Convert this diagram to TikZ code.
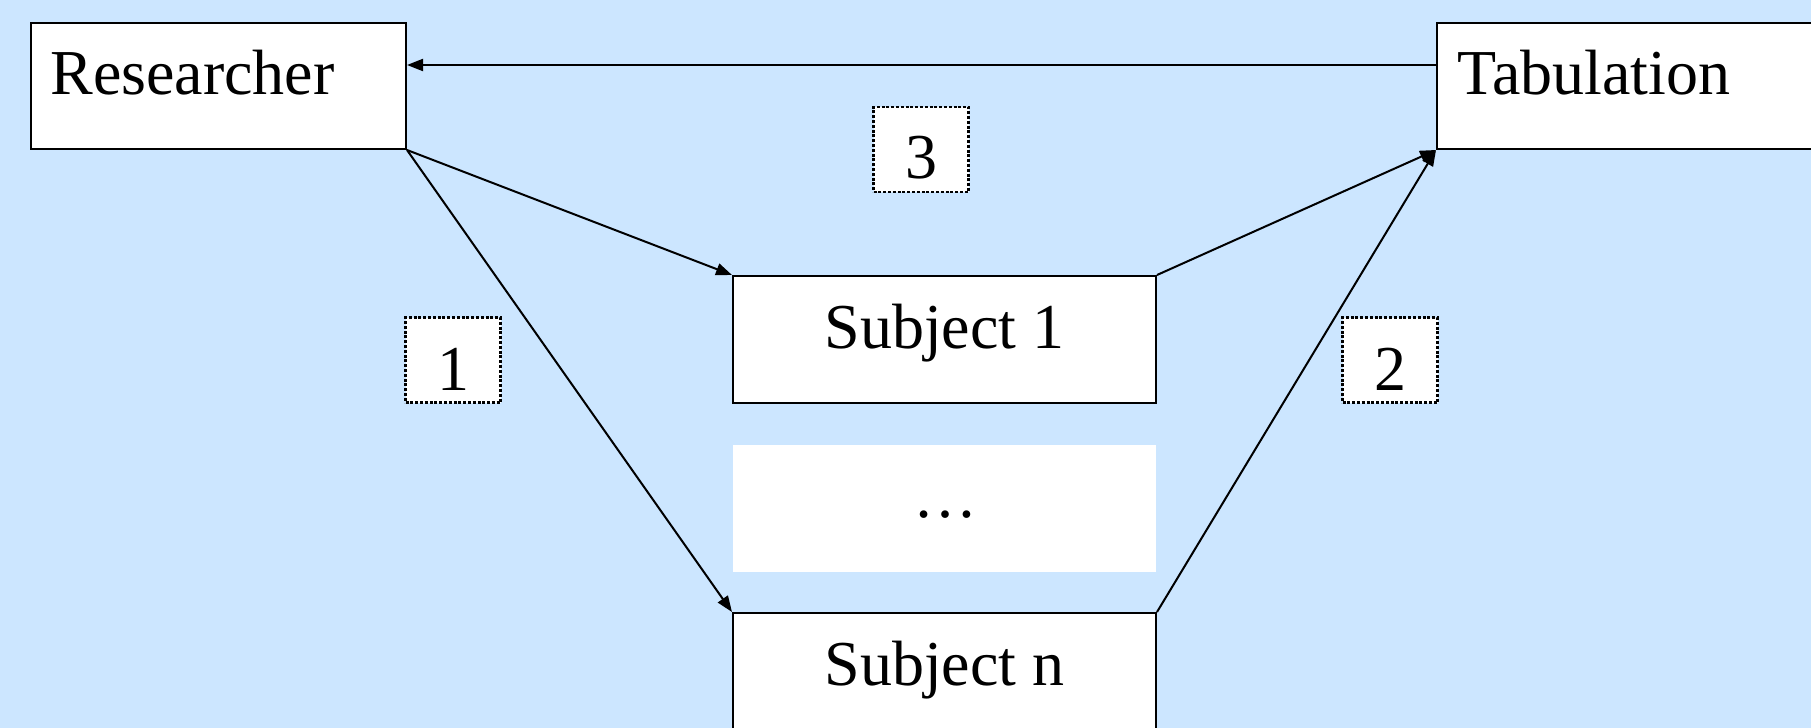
\documentclass[tikz,border=0pt]{standalone}
\usepackage{fontspec}
\newfontfamily\timesface{Liberation Serif}
\usetikzlibrary{arrows.meta}
\definecolor{bgblue}{RGB}{204,230,255}
\begin{document}
\begin{tikzpicture}[x=0.5pt,y=-0.5pt,
  font=\timesface\fontsize{32}{38}\selectfont,
  box/.style={draw=black, fill=white, line width=1pt, rectangle, inner sep=0pt},
  gapbox/.style={fill=white, rectangle, inner sep=0pt, minimum width=211.5pt, minimum height=63.5pt},
  txt/.style={inner sep=0pt},
  tag/.style={draw=black, fill=white, line width=1.1pt, dash pattern=on 1.5pt off 0.9pt,
    rectangle, inner sep=0pt, minimum width=47.5pt, minimum height=42.5pt},
  tagtxt/.style={inner sep=0pt, anchor=base},
  link/.style={line width=1pt, -{Triangle[length=8pt,width=6pt]}}]
  \clip (0,0) rectangle (1811,728);
  \fill[bgblue] (0,0) rectangle (1811,728);

  % boxes
  \node[box, minimum width=187.5pt, minimum height=63pt] (res) at (218.5,86) {};
  \node[box, minimum width=225pt, minimum height=63pt] (tab) at (1662,86) {};
  \node[box, minimum width=211.5pt, minimum height=63.5pt] (s1) at (944.5,339.5) {};
  \node[gapbox] (gap) at (944.5,508.5) {};
  \node[box, minimum width=211.5pt, minimum height=63.5pt] (sn) at (944.5,676.5) {};

  % texts
  \node[txt, anchor=base west] (restxt) at (50,94) {Researcher};
  \node[txt, anchor=base west] (tabtxt) at (1457,94) {Tabulation};
  \node[txt, anchor=base] (s1txt) at (944.5,348) {Subject 1};
  \node[txt, anchor=base] (gaptxt) at (945,517) {…};
  \node[txt, anchor=base] (sntxt) at (944.5,685) {Subject n};

  % step tags
  \node[tag] (t3) at (921,149.5) {};
  \node[tagtxt] (t3txt) at (921,178) {3};
  \node[tag] (t1) at (453,360) {};
  \node[tagtxt] (t1txt) at (453,390) {1};
  \node[tag] (t2) at (1390,360) {};
  \node[tagtxt] (t2txt) at (1390,390) {2};

  % connectors
  \draw[link] ([yshift=10.5pt]tab.west) -- ([yshift=10.5pt]res.east);
  \draw[link] (res.south east) -- (s1.north west);
  \draw[link] (res.south east) -- (sn.north west);
  \draw[link] (s1.north east) -- (tab.south west);
  \draw[link] (sn.north east) -- (tab.south west);
\end{tikzpicture}
\end{document}
